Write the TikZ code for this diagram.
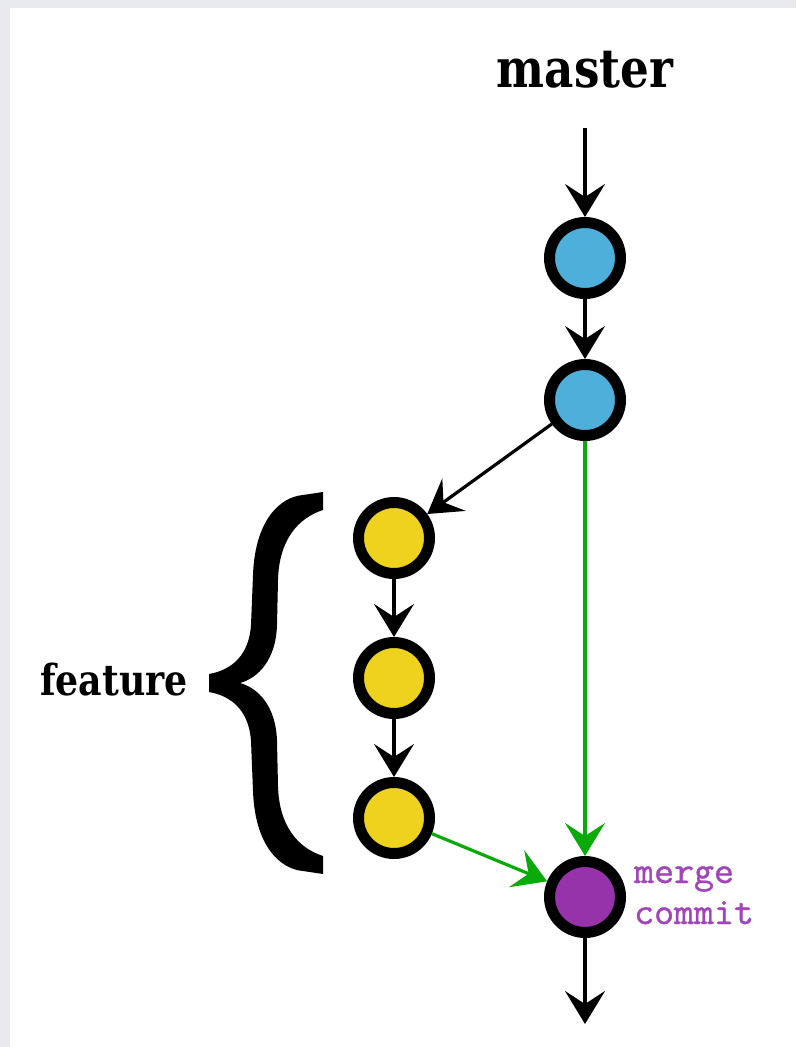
\documentclass[tikz,border=0pt]{standalone}
\usepackage{fontspec}
\setmainfont{DejaVu Serif}
\newfontfamily\mergefont{lmmono10-regular.otf}[FakeBold=0.9]
\usetikzlibrary{arrows.meta}
\definecolor{bggray}{RGB}{232,234,237}
\definecolor{bluefill}{RGB}{77,175,218}
\definecolor{yellowfill}{RGB}{238,210,30}
\definecolor{purplefill}{RGB}{150,50,170}
\definecolor{purpletext}{RGB}{160,70,185}
\definecolor{gitgreen}{RGB}{10,170,10}
\tikzset{
  commit/.style={circle, draw=black, line width=11pt, minimum size=71pt, inner sep=0pt, outer sep=5.5pt},
  blackarrow/.style={draw=black, line width=3.2pt, -{Stealth[length=33pt, width=40pt, inset=13pt]}},
  greenarrow/.style={draw=gitgreen, line width=3.2pt, -{Stealth[length=33pt, width=40pt, inset=13pt]}},
  branchlabel/.style={text=black, inner sep=0pt},
  mergelabel/.style={font=\mergefont\fontsize{38}{44}\selectfont, text=purpletext, inner sep=0pt, anchor=base west}
}
\begin{document}
\begin{tikzpicture}[x=1pt, y=-1pt]
  \useasboundingbox (0,0) rectangle (796,1047);
  \fill[bggray] (0,0) rectangle (796,1047);
  \fill[white] (10,8) rectangle (796,1047);

  % labels
  \node[branchlabel, anchor=base] (lmaster) at (585,87) {\scalebox{1}[1.18]{\bfseries\fontsize{45.3}{50}\selectfont master}};
  \node[branchlabel, anchor=base east] (lfeature) at (188,695) {\scalebox{1}[1.18]{\bfseries\fontsize{36.3}{40}\selectfont feature}};
  \node[mergelabel] (lmerge) at (634,883) {merge};
  \node[mergelabel] (lcommit) at (634,924) {commit};

  % commits
  \node[commit, fill=bluefill] (c1) at (585,258) {};
  \node[commit, fill=bluefill] (c2) at (585,400) {};
  \node[commit, fill=yellowfill] (f1) at (394,538) {};
  \node[commit, fill=yellowfill] (f2) at (394,678) {};
  \node[commit, fill=yellowfill] (f3) at (394,818) {};
  \node[commit, fill=purplefill] (m) at (585,897) {};

  \coordinate (start) at (585,128);
  \coordinate (end) at (585,1024);

  % connectors
  \draw[blackarrow] (start) -- (c1);
  \draw[blackarrow] (c1) -- (c2);
  \draw[blackarrow] (c2) -- (f1);
  \draw[blackarrow] (f1) -- (f2);
  \draw[blackarrow] (f2) -- (f3);
  \draw[greenarrow] (c2) -- (m);
  \draw[greenarrow] (f3) -- (m);
  \draw[blackarrow] (m) -- (end);

  % brace
  \fill[black] (209,674) .. controls (232,670) and (249,655) .. (251,625)
    -- (253,575) .. controls (255,520) and (280,497) .. (303,495)
    -- (323,492) -- (323,510)
    .. controls (298,518) and (279,540) .. (278,580)
    -- (277,625) .. controls (276,660) and (258,678) .. (240,683)
    .. controls (258,688) and (276,706) .. (277,741)
    -- (278,786) .. controls (279,826) and (298,848) .. (323,856)
    -- (323,874) -- (303,871)
    .. controls (280,869) and (255,846) .. (253,791)
    -- (251,741) .. controls (249,711) and (232,696) .. (209,692) -- cycle;
\end{tikzpicture}
\end{document}
